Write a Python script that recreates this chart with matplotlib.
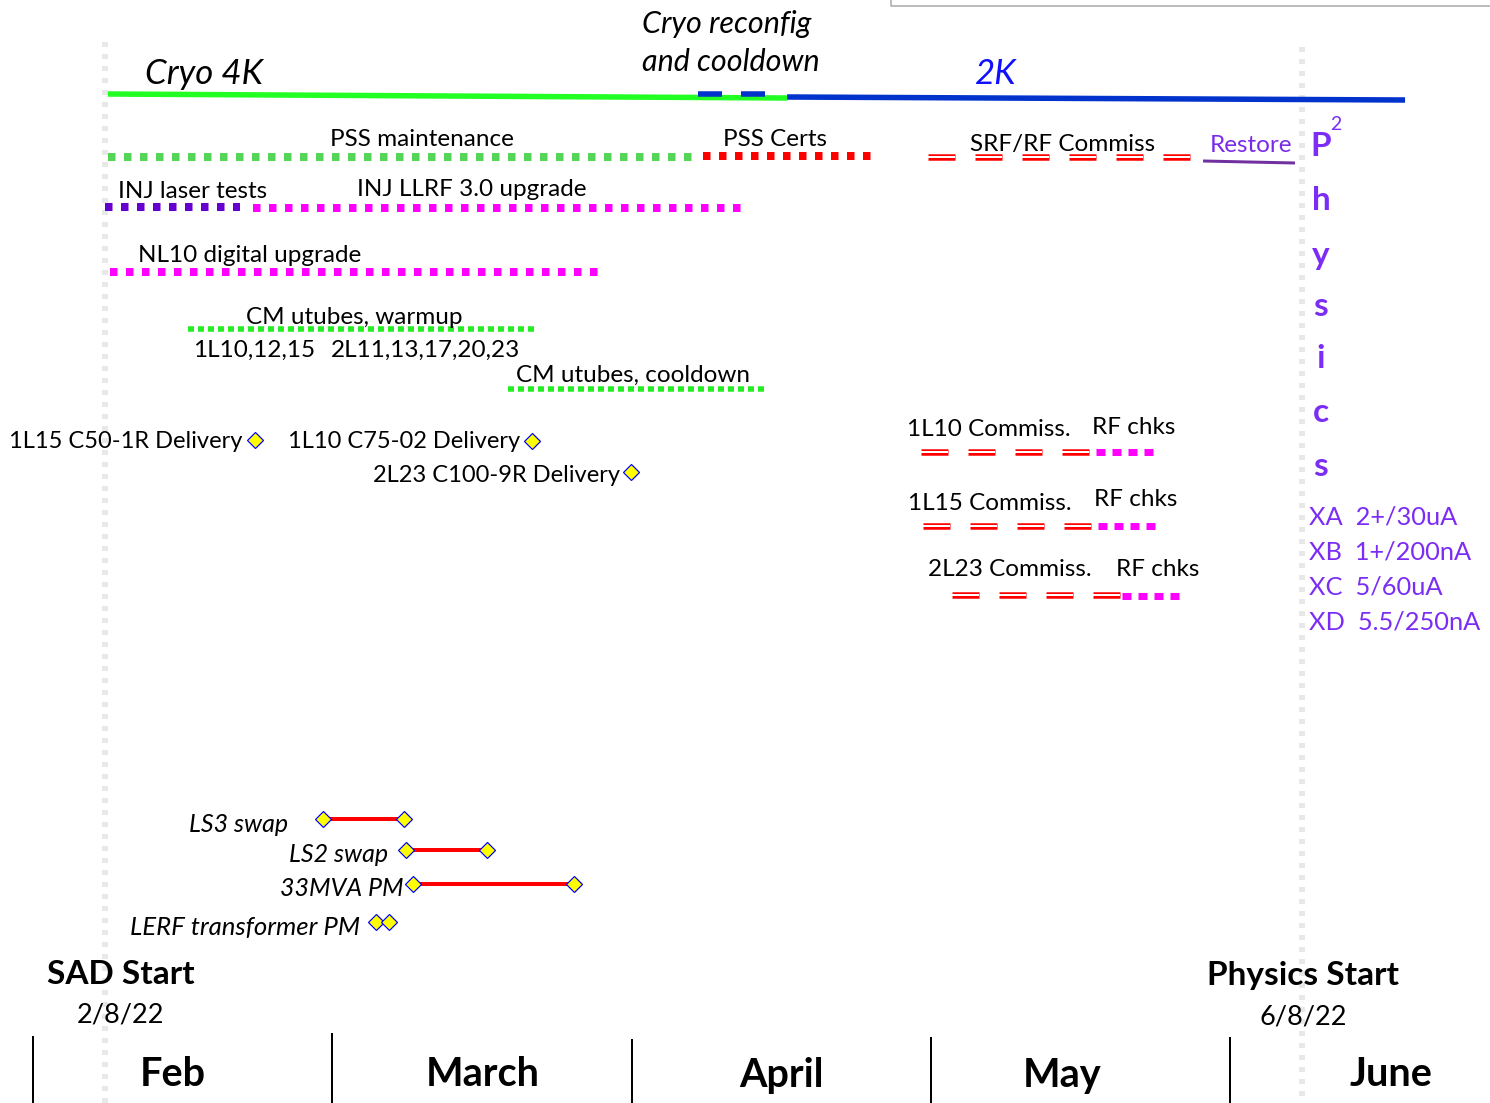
import matplotlib
matplotlib.use('Agg')
import matplotlib.pyplot as plt

plt.rcParams['font.family'] = ['Lato', 'DejaVu Sans']
plt.rcParams['lines.scale_dashes'] = False

# ---------------- data (x in months since Feb 1, y = row position) ----------------
months = ['Feb', 'March', 'April', 'May', 'June']
month_bounds = [0, 1, 2, 3, 4]
month_sep_top = [1037, 1034, 1040, 1038, 1038]
month_label_x = [0.468, 1.504, 2.50, 3.439, 4.538]

sad_start = 0.24        # 2/8/22
physics_start = 4.24    # 6/8/22

# Cryo bars: (start, end, y_start, y_end)
cryo_4k = (0.25, 2.52, 94, 98)
cryo_2k = (2.52, 4.585, 97, 100)
cryo_reconfig = [(2.222, 2.302), (2.366, 2.446)]
cryo_reconfig_y = 94

# Tasks: (start, end, row_y, style)
task_names = ['PSS maintenance', 'PSS Certs', 'SRF/RF Commiss', 'INJ laser tests',
              'INJ LLRF 3.0 upgrade', 'NL10 digital upgrade', 'CM utubes, warmup',
              'CM utubes, cooldown',
              '1L10 Commiss.', '1L10 RF chks', '1L15 Commiss.', '1L15 RF chks',
              '2L23 Commiss.', '2L23 RF chks']
task_start = [0.25, 2.239, 2.991, 0.241, 0.735, 0.257, 0.518, 1.587,
              2.967, 3.552, 2.974, 3.559, 3.071, 3.639]
task_end = [2.229, 2.804, 3.866, 0.692, 2.369, 1.888, 1.678, 2.456,
            3.552, 3.749, 3.559, 3.753, 3.639, 3.830]
task_row = [157, 156, 157, 207, 208, 272, 329, 389, 452, 452, 526, 526, 595, 596]
task_style = ['green', 'red', 'double', 'purple', 'magenta', 'magenta', 'lime', 'lime',
              'double', 'magenta_s', 'double', 'magenta_s', 'double', 'magenta_s']

restore = (3.91, 4.217, 161, 163)

# Deliveries (milestones)
delivery_names = ['1L15 C50-1R Delivery', '1L10 C75-02 Delivery', '2L23 C100-9R Delivery']
delivery_x = [0.742, 1.668, 1.998]
delivery_row = [440, 441, 472]

# Bottom items (start diamond, end diamond)
pm_names = ['LS3 swap', 'LS2 swap', '33MVA PM', 'LERF transformer PM']
pm_start = [0.969, 1.246, 1.270, 1.146]
pm_end = [1.240, 1.517, 1.808, 1.190]
pm_row = [819, 850, 884, 922]

physics_letters = ['P', 'h', 'y', 's', 'i', 'c', 's']
physics_rows = [145, 198, 253, 305, 357, 410, 464]
beam_specs = ['XA  2+/30uA', 'XB  1+/200nA', 'XC  5/60uA', 'XD  5.5/250nA']
beam_rows = [515, 550, 585, 620]

# ---------------- figure ----------------
PX = 299.25  # pixels per month
fig = plt.figure(figsize=(14.9, 11.03), dpi=100)
ax = fig.add_axes([0, 0, 1, 1])
ax.set_xlim(-33 / PX, (1490 - 33) / PX)
ax.set_ylim(1103, 0)
ax.axis('off')


def p(px):
    """pixels -> points (dpi 100)"""
    return px * 0.72


styles = {
    'green': dict(color='#55D455', lw=8, on=7.5, off=8.5),
    'red': dict(color='#FF0000', lw=8, on=7.5, off=8.5),
    'purple': dict(color='#6600CC', lw=8, on=7.5, off=8.5),
    'magenta': dict(color='#FF00FF', lw=8, on=7.5, off=8.5),
    'magenta_s': dict(color='#FF00FF', lw=7, on=9, off=7),
    'lime': dict(color='#22EE22', lw=5.5, on=6, off=4),
}


def dotted(x0, x1, y, st, z=3):
    s = styles[st]
    ax.plot([x0, x1], [y, y], color=s['color'], lw=p(s['lw']),
            dashes=(p(s['on']), p(s['off'])), dash_capstyle='butt',
            solid_capstyle='butt', zorder=z)


def double(x0, x1, y):
    ax.plot([x0, x1], [y, y], color='#FF0000', lw=p(6.5),
            dashes=(p(27), p(20)), dash_capstyle='butt', zorder=3)
    ax.plot([x0, x1], [y, y], color='white', lw=p(2.0),
            dashes=(p(27), p(20)), dash_capstyle='butt', zorder=4)


# gray dotted milestone verticals
for x, ytop in [(sad_start, 42), (physics_start, 47)]:
    ax.plot([x, x], [ytop, 1103], color='#E8E8E8', lw=p(6),
            dashes=(p(5), p(7)), dash_capstyle='butt', zorder=1)

# top-right box remnant
ax.plot([(891 - 33) / PX, (891 - 33) / PX, (1495 - 33) / PX], [-2, 6, 6],
        color='#A8A8A8', lw=p(1.5), zorder=1)

# cryo lines
ax.plot([cryo_4k[0], cryo_4k[1]], [cryo_4k[2], cryo_4k[3]], color='#22FF22',
        lw=p(5.5), solid_capstyle='butt', zorder=3)
ax.plot([cryo_2k[0], cryo_2k[1]], [cryo_2k[2], cryo_2k[3]], color='#0033CC',
        lw=p(5.5), solid_capstyle='butt', zorder=3)
for a, b in cryo_reconfig:
    ax.plot([a, b], [cryo_reconfig_y, cryo_reconfig_y], color='#0033CC',
            lw=p(5.5), solid_capstyle='butt', zorder=4)

# tasks
for s, e, r, st in zip(task_start, task_end, task_row, task_style):
    if st == 'double':
        double(s, e, r)
    else:
        dotted(s, e, r, st)

# restore
ax.plot([restore[0], restore[1]], [restore[2], restore[3]], color='#7030A0',
        lw=p(3), solid_capstyle='butt', zorder=3)

# deliveries
mk = dict(marker='D', ms=p(12), mfc='#FFFF00', mec='#0000FF', mew=p(1.2), ls='none', zorder=5)
ax.plot(delivery_x, delivery_row, **mk)

# bottom bars
for s, e, r in zip(pm_start, pm_end, pm_row):
    if e - s > 0.1:
        ax.plot([s, e], [r, r], color='#FF0000', lw=p(4), zorder=4)
    ax.plot([s, e], [r, r], **mk)

# month separators
for b, top in zip(month_bounds, month_sep_top):
    ax.plot([b, b], [top, 1103], color='black', lw=p(2), zorder=2)

# ---------------- text ----------------
def T(xpx, y, s, ha='left', size=17.5, color='black', weight='normal', style='normal'):
    ax.text((xpx - 33) / PX, y + 2, s, ha=ha, va='center', fontsize=size, color=color,
            fontweight=weight, fontstyle=style, zorder=6)


T(145, 72, 'Cryo 4K', size=25, style='italic')
T(642, 22, 'Cryo reconfig', size=22, style='italic')
T(642, 60, 'and cooldown', size=22, style='italic')
T(975, 72, '2K', size=25, style='italic', color='#1010FF')

T(422, 137, task_names[0], ha='center')
T(775, 138, task_names[1], ha='center')
T(1063, 142, task_names[2], ha='center')
T(1251, 143, 'Restore', ha='center', color='#7A2BE8')
T(118, 189, task_names[3])
T(357, 188, task_names[4])
T(138, 253, task_names[5])
T(246, 316, task_names[6])
T(193, 348, '1L10,12,15')
T(331, 348, '2L11,13,17,20,23')
T(516, 373, task_names[7])

T(242, 440, delivery_names[0], ha='right', size=17)
T(520, 440, delivery_names[1], ha='right', size=17)
T(620, 473, delivery_names[2], ha='right', size=17)

T(907, 428, task_names[8])
T(1092, 425, 'RF chks')
T(908, 501, task_names[10])
T(1094, 498, 'RF chks')
T(928, 568, task_names[12])
T(1116, 568, 'RF chks')

for L, r in zip(physics_letters, physics_rows):
    T(1321, r, L, ha='center', size=24, weight='bold', color='#7B2CF5')
T(1330, 123, '2', ha='left', size=14, color='#7B2CF5')
for sp, r in zip(beam_specs, beam_rows):
    T(1309, r, sp, size=18.3, color='#7B2CF5')

T(288, 822, pm_names[0], ha='right', size=18, style='italic')
T(388, 852, pm_names[1], ha='right', size=18, style='italic')
T(404, 886, pm_names[2], ha='right', size=18, style='italic')
T(360, 925, pm_names[3], ha='right', size=18.5, style='italic')

T(121, 972, 'SAD Start', ha='center', size=24, weight='bold')
T(121, 1013, '2/8/22', ha='center', size=19.5)
T(1303, 974, 'Physics Start', ha='center', size=24, weight='bold')
T(1303, 1015, '6/8/22', ha='center', size=19.5)

for m, mx in zip(months, month_label_x):
    ax.text(mx, 1075, m, ha='center', va='center', fontsize=28.5, fontweight='bold', zorder=6)

fig.savefig('out.png', dpi=100)
